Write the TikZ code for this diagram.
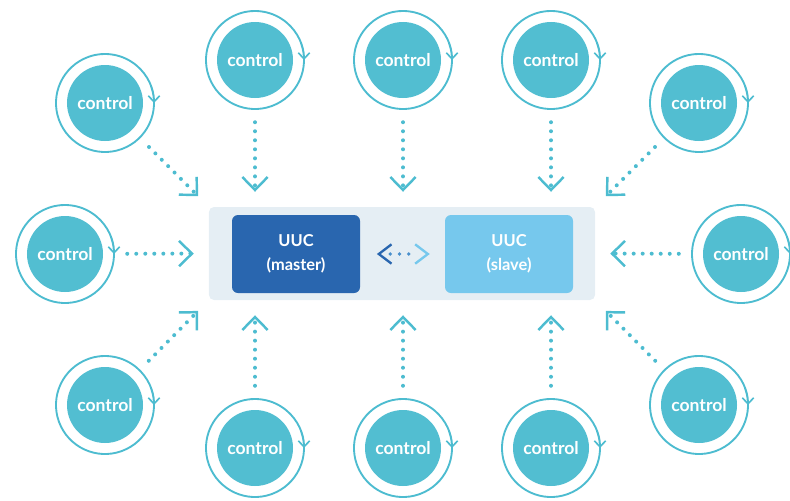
\documentclass[tikz,border=0pt]{standalone}
\usepackage{fontspec}
\setmainfont{Lato}
\usetikzlibrary{arrows.meta}

\definecolor{ringteal}{HTML}{4DBCD0}
\definecolor{discteal}{HTML}{52BED1}
\definecolor{panelbg}{HTML}{E5EEF4}
\definecolor{masterblue}{HTML}{2966AF}
\definecolor{slaveblue}{HTML}{76C8ED}
\definecolor{linkblue}{HTML}{4A90CD}

\begin{document}
\begin{tikzpicture}[x=0.03cm, y=-0.03cm,
    control/.style={circle, fill=discteal, minimum size=2.28cm, inner sep=0pt,
      text=white, font=\bfseries\fontsize{15}{17}\selectfont},
    ring/.style={draw=ringteal, line width=1.6pt,
      -{Straight Barb[length=1.8mm, width=3.4mm, line width=1.4pt]}},
    flow/.style={draw=ringteal, line width=3.4pt, line cap=round,
      dash pattern=on 0pt off 7.7pt, shorten <=0.72cm, shorten >=0.45cm,
      -{Straight Barb[length=3.9mm, width=7.6mm, line width=2.1pt]}},
    uuc/.style={rounded corners=0.18cm, minimum width=3.84cm, minimum height=2.34cm,
      text=white, align=center, font=\bfseries\fontsize{14}{20}\selectfont}]

  \useasboundingbox (0,0) rectangle (790,500);

  % centre block
  \node[fill=panelbg, rounded corners=0.15cm, minimum width=11.58cm,
    minimum height=2.79cm] (panel) at (402,253.5) {};
  \node[uuc, fill=masterblue] (master) at (296,254) {UUC\\(master)};
  \node[uuc, fill=slaveblue] (slave) at (509,254) {UUC\\(slave)};

  \draw[linkblue, line width=3.2pt, line cap=round, dash pattern=on 0pt off 7.9pt,
    shorten <=0.9cm, shorten >=0.81cm] (master) -- (slave);
  \path[tips, shorten <=0.5cm, shorten >=0.45cm,
    {Straight Barb[length=3.8mm, width=5.8mm, line width=2pt, color=masterblue]}-{Straight Barb[length=3.8mm, width=5.8mm, line width=2pt, color=slaveblue]}]
    (master) -- (slave);

  % controls
  \foreach \n/\x/\y in {1/105/103, 2/255/60, 3/403/60, 4/551/60, 5/699/103,
      6/741/254, 7/699/405, 8/551/448, 9/403/448, 10/255/448, 11/105/405, 12/65/254}{
    \node[control] (ctl\n) at (\x,\y) {control};
    \draw[ring] (ctl\n.center) ++(20:1.47cm) arc[start angle=20, end angle=-360, radius=1.47cm];
  }

  \foreach \n/\t in {1/panel.north west, 2/ctl2 |- panel.north, 3/ctl3 |- panel.north,
      4/ctl4 |- panel.north, 5/panel.north east, 6/panel.east, 7/panel.south east,
      8/ctl8 |- panel.south, 9/ctl9 |- panel.south, 10/ctl10 |- panel.south,
      11/panel.south west, 12/panel.west}
    \draw[flow] (ctl\n) -- (\t);

\end{tikzpicture}
\end{document}
